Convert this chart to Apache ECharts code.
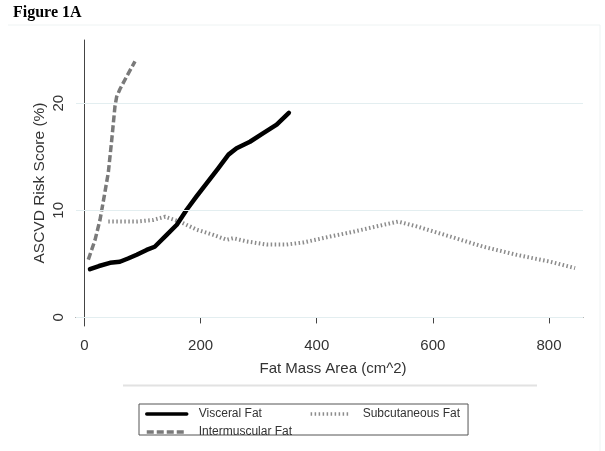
<!DOCTYPE html>
<html>
<head>
<meta charset="utf-8">
<script src="https://cdn.jsdelivr.net/npm/echarts@6/dist/echarts.min.js"></script>
<style>
html,body{margin:0;padding:0;background:#fff;}
#c{width:605px;height:451px;}
</style>
</head>
<body>
<div id="c"></div>
<script>
var visceralX = [9.5, 25, 44, 61, 75, 90, 107, 121, 141.6, 159, 176, 193, 210, 230, 248, 262, 285, 308, 331, 352];
var visceralY = [4.5, 4.8, 5.1, 5.2, 5.5, 5.85, 6.3, 6.6, 7.7, 8.65, 10.05, 11.3, 12.5, 13.9, 15.2, 15.8, 16.4, 17.2, 18.0, 19.1];
var interX = [6.6, 18, 26.7, 32, 41, 47, 52.5, 55.4, 61, 72.7, 87];
var interY = [5.4, 7.2, 9.1, 10.7, 13.5, 16.6, 19.7, 20.6, 21.3, 22.5, 23.9];
var subX = [41, 65, 90, 118.5, 139, 164, 193, 222, 245, 256, 279, 314, 348, 377, 423, 463, 503, 540, 572, 630, 687, 744, 802, 845];
var subY = [8.95, 8.95, 8.95, 9.1, 9.4, 8.95, 8.2, 7.7, 7.25, 7.4, 7.1, 6.8, 6.8, 7.0, 7.55, 8.0, 8.5, 8.95, 8.5, 7.55, 6.6, 5.85, 5.2, 4.6];
var xTicks = [0, 200, 400, 600, 800];
var yTicks = [0, 10, 20];

function zip(a, b) { return a.map(function (v, i) { return [v, b[i]]; }); }

var chart = echarts.init(document.getElementById('c'), null, {renderer: 'canvas'});
var font = 'Liberation Sans, Arial, sans-serif';
chart.setOption({
  animation: false,
  backgroundColor: '#fff',
  title: {
    text: 'Figure 1A', left: 13, top: 5, padding: 0,
    textStyle: {fontFamily: 'Liberation Serif, Times New Roman, serif', fontWeight: 'bold', fontSize: 16, color: '#000'}
  },
  grid: {left: 76, right: 22, top: 40, bottom: 125},
  xAxis: {
    type: 'value', min: -14.6, max: 858.6,
    name: 'Fat Mass Area (cm^2)', nameLocation: 'middle', nameGap: 35, nameMoveOverlap: false,
    nameTextStyle: {fontFamily: font, fontSize: 15, color: '#333', padding: [0, 0, 0, 7]},
    axisLine: {show: true, lineStyle: {color: '#444', width: 1}},
    axisTick: {show: true, customValues: xTicks, length: 6, lineStyle: {color: '#444'}},
    axisLabel: {customValues: xTicks, fontFamily: font, fontSize: 15, color: '#333', margin: 12},
    splitLine: {show: false}
  },
  yAxis: {
    type: 'value', min: -0.8, max: 25.9,
    name: 'ASCVD Risk Score (%)', nameLocation: 'middle', nameGap: 28, nameRotate: 90, nameMoveOverlap: false,
    nameTextStyle: {fontFamily: font, fontSize: 15.5, color: '#333'},
    axisLine: {show: true, lineStyle: {color: '#444', width: 1}},
    axisTick: {show: true, customValues: yTicks, length: 6, lineStyle: {color: '#444'}},
    axisLabel: {customValues: yTicks, rotate: 90, fontFamily: font, fontSize: 15, color: '#333', margin: 10},
    splitLine: {show: false}
  },
  legend: [{
    data: ['Visceral Fat', 'Subcutaneous Fat'],
    left: 139, top: 404, orient: 'horizontal',
    padding: [4, 8, 15, 6],
    borderColor: '#555', borderWidth: 1,
    itemWidth: 40, itemHeight: 14, itemGap: 47,
    itemStyle: {opacity: 0},
    lineStyle: {width: 3.5},
    textStyle: {fontFamily: font, fontSize: 12, color: '#333', padding: [0, 0, 0, 7]}
  }, {
    data: ['Intermuscular Fat'],
    left: 145, top: 426, padding: 0,
    itemWidth: 40, itemHeight: 14,
    itemStyle: {opacity: 0},
    lineStyle: {width: 3.5},
    textStyle: {fontFamily: font, fontSize: 12, color: '#333', padding: [0, 0, 0, 7]}
  }],
  graphic: [
    {type: 'line', shape: {x1: 8, y1: 25, x2: 600, y2: 25}, style: {stroke: '#eef3f3', lineWidth: 1}, silent: true},
    {type: 'line', shape: {x1: 600, y1: 25, x2: 600, y2: 451}, style: {stroke: '#eef3f3', lineWidth: 1}, silent: true},
    {type: 'line', shape: {x1: 123, y1: 385.5, x2: 537, y2: 385.5}, style: {stroke: '#e2e2e2', lineWidth: 2}, silent: true}
  ],
  series: [{
    name: 'Subcutaneous Fat', type: 'line', data: zip(subX, subY),
    symbol: 'none', z: 2,
    lineStyle: {color: '#8c8c8c', width: 4, type: [1.5, 2.5], cap: 'butt'},
    itemStyle: {color: '#8c8c8c'},
    markLine: {
      silent: true, symbol: 'none', label: {show: false},
      lineStyle: {color: '#e3eef0', width: 1, type: 'solid'},
      data: yTicks.map(function (v) { return {yAxis: v}; })
    }
  }, {
    name: 'Intermuscular Fat', type: 'line', data: zip(interX, interY),
    symbol: 'none', z: 3,
    lineStyle: {color: '#7a7a7a', width: 3.5, type: [7, 3], cap: 'butt'},
    itemStyle: {color: '#7a7a7a'}
  }, {
    name: 'Visceral Fat', type: 'line', data: zip(visceralX, visceralY),
    symbol: 'none', z: 4,
    lineStyle: {color: '#000', width: 4.5, cap: 'round', join: 'round'},
    itemStyle: {color: '#000'}
  }]
});
</script>
</body>
</html>
